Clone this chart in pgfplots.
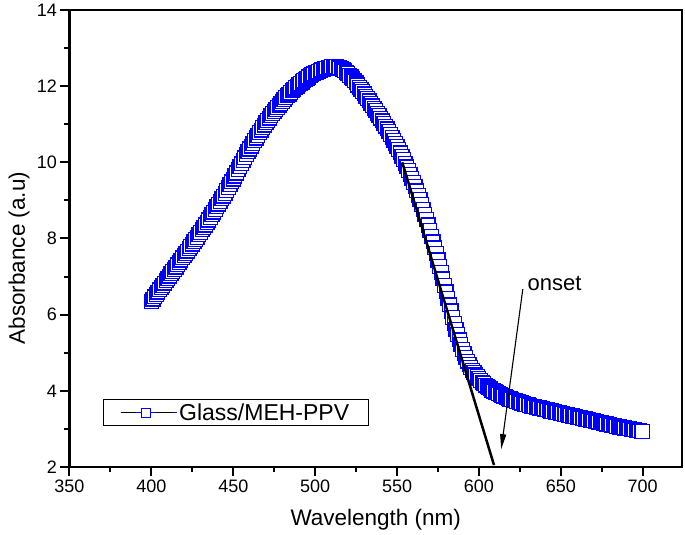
\documentclass[border=0pt]{standalone}
\usepackage{fontspec}
\setmainfont{Liberation Sans}
\usepackage{pgfplots}
\pgfplotsset{compat=1.18}
\usetikzlibrary{arrows.meta}
\begin{document}
\begin{tikzpicture}
\useasboundingbox (-69.5pt,-68pt) rectangle (615.5pt,467pt);
\begin{axis}[
  scale only axis, width=612.5pt, height=457pt,
  xmin=350, xmax=724, ymin=2, ymax=14,
  clip mode=individual,
  xtick={350,400,...,700}, ytick={2,4,...,14},
  minor x tick num=1, minor y tick num=1,
  xtick pos=bottom, ytick pos=left,
  tick align=outside,
  major tick length=9pt, minor tick length=5pt,
  axis line style={line width=2.2pt},
  tick style={black, line width=2pt},
  /pgf/number format/assume math mode=true,
  tick label style={font=\fontsize{18}{20}\selectfont},
  xlabel={Wavelength (nm)},
  ylabel={Absorbance (a.u)},
  xlabel style={at={(axis description cs:0.5,-0.116)}, anchor=center, font=\fontsize{22.5}{25}\selectfont},
  ylabel style={at={(axis description cs:-0.0824,0.457)}, anchor=center, font=\fontsize{22.5}{25}\selectfont},
  legend style={at={(axis description cs:0.0542,0.1488)}, anchor=north west,
    draw=black, line width=1pt, inner xsep=17pt, inner ysep=2pt,
    font=\fontsize{23}{25}\selectfont},
  legend cell align=left,
]
\addplot[only marks, blue, mark=square*, mark size=6.9pt,
  mark options={fill=white, draw=blue, line width=1.3pt, solid},
  legend image code/.code={
    \path (0pt,0pt) -- (56pt,0pt);
    \draw[black, line width=1pt] (0pt,0pt) -- (15pt,0pt);
    \draw[black, line width=1pt] (35pt,0pt) -- (52pt,0pt);
    \draw[blue, fill=white, line width=1pt] (20.5pt,-4.5pt) rectangle (29.5pt,4.5pt);
  }] coordinates {
(400,6.35) (401,6.41) (402,6.47) (403,6.53) (404,6.59) (405,6.65) (406,6.71) (407,6.77) (408,6.83) (409,6.89)
(410,6.95) (411,7.01) (412,7.07) (413,7.13) (414,7.19) (415,7.25) (416,7.31) (417,7.37) (418,7.43) (419,7.49)
(420,7.55) (421,7.61) (422,7.67) (423,7.73) (424,7.79) (425,7.85) (426,7.91) (427,7.97) (428,8.03) (429,8.095)
(430,8.16) (431,8.225) (432,8.29) (433,8.355) (434,8.42) (435,8.485) (436,8.55) (437,8.62) (438,8.69) (439,8.76)
(440,8.83) (441,8.90) (442,8.97) (443,9.04) (444,9.11) (445,9.185) (446,9.26) (447,9.335) (448,9.41) (449,9.485)
(450,9.56) (451,9.64) (452,9.72) (453,9.80) (454,9.88) (455,9.96) (456,10.04) (457,10.12) (458,10.20) (459,10.275)
(460,10.35) (461,10.425) (462,10.50) (463,10.57) (464,10.64) (465,10.71) (466,10.78) (467,10.845) (468,10.91) (469,10.975)
(470,11.04) (471,11.10) (472,11.16) (473,11.22) (474,11.28) (475,11.335) (476,11.39) (477,11.445) (478,11.50) (479,11.55)
(480,11.60) (481,11.65) (482,11.70) (483,11.745) (484,11.79) (485,11.835) (486,11.88) (487,11.92) (488,11.96) (489,12.00)
(490,12.04) (491,12.075) (492,12.11) (493,12.145) (494,12.18) (495,12.21) (496,12.24) (497,12.27) (498,12.30) (499,12.325)
(500,12.35) (501,12.37) (502,12.39) (503,12.41) (504,12.43) (505,12.445) (506,12.46) (507,12.475) (508,12.49) (509,12.50)
(510,12.51) (511,12.515) (512,12.52) (513,12.51) (514,12.50) (515,12.48) (516,12.46) (517,12.43) (518,12.40) (519,12.365)
(520,12.33) (521,12.285) (522,12.24) (523,12.19) (524,12.14) (525,12.085) (526,12.03) (527,11.975) (528,11.92) (529,11.86)
(530,11.80) (531,11.74) (532,11.68) (533,11.615) (534,11.55) (535,11.485) (536,11.42) (537,11.355) (538,11.29) (539,11.225)
(540,11.16) (541,11.09) (542,11.02) (543,10.95) (544,10.88) (545,10.805) (546,10.73) (547,10.655) (548,10.58) (549,10.50)
(550,10.42) (551,10.335) (552,10.25) (553,10.16) (554,10.07) (555,9.975) (556,9.88) (557,9.78) (558,9.68) (559,9.575)
(560,9.47) (561,9.36) (562,9.25) (563,9.135) (564,9.02) (565,8.895) (566,8.77) (567,8.635) (568,8.50) (569,8.355)
(570,8.21) (571,8.06) (572,7.91) (573,7.755) (574,7.60) (575,7.435) (576,7.27) (577,7.105) (578,6.94) (579,6.77)
(580,6.60) (581,6.43) (582,6.26) (583,6.095) (584,5.93) (585,5.775) (586,5.62) (587,5.48) (588,5.34) (589,5.215)
(590,5.09) (591,4.98) (592,4.87) (593,4.78) (594,4.69) (595,4.615) (596,4.54) (597,4.48) (598,4.42) (599,4.37)
(600,4.32) (601,4.275) (602,4.23) (603,4.19) (604,4.15) (605,4.115) (606,4.08) (607,4.05) (608,4.02) (609,3.995)
(610,3.97) (611,3.945) (612,3.92) (613,3.90) (614,3.88) (615,3.86) (616,3.84) (617,3.82) (618,3.80) (619,3.785)
(620,3.77) (621,3.755) (622,3.74) (623,3.725) (624,3.71) (625,3.695) (626,3.68) (627,3.665) (628,3.65) (629,3.64)
(630,3.63) (631,3.615) (632,3.60) (633,3.59) (634,3.58) (635,3.57) (636,3.56) (637,3.55) (638,3.54) (639,3.53)
(640,3.52) (641,3.51) (642,3.50) (643,3.485) (644,3.47) (645,3.46) (646,3.45) (647,3.44) (648,3.43) (649,3.42)
(650,3.41) (651,3.40) (652,3.39) (653,3.38) (654,3.37) (655,3.36) (656,3.35) (657,3.34) (658,3.33) (659,3.32)
(660,3.31) (661,3.30) (662,3.29) (663,3.28) (664,3.27) (665,3.26) (666,3.25) (667,3.24) (668,3.23) (669,3.22)
(670,3.21) (671,3.20) (672,3.19) (673,3.18) (674,3.17) (675,3.16) (676,3.15) (677,3.14) (678,3.13) (679,3.12)
(680,3.11) (681,3.10) (682,3.09) (683,3.08) (684,3.07) (685,3.06) (686,3.05) (687,3.04) (688,3.03) (689,3.025)
(690,3.02) (691,3.01) (692,3.00) (693,2.99) (694,2.98) (695,2.975) (696,2.97) (697,2.96) (698,2.95) (699,2.94)
(700,2.93)
};
\addlegendentry{Glass/MEH-PPV}
\addplot[black, line width=2.5pt, no marks, forget plot] coordinates {(553.2,10.0) (609.2,2.05)};
\draw[line width=1.1pt, -{Triangle[length=15pt,width=6pt]}] (axis cs:626.8,6.67) -- (axis cs:613.6,2.47);
\node[anchor=base west, inner sep=0pt, font=\fontsize{22}{24}\selectfont] at (axis cs:629.6,6.63) {onset};
\end{axis}
\end{tikzpicture}
\end{document}
